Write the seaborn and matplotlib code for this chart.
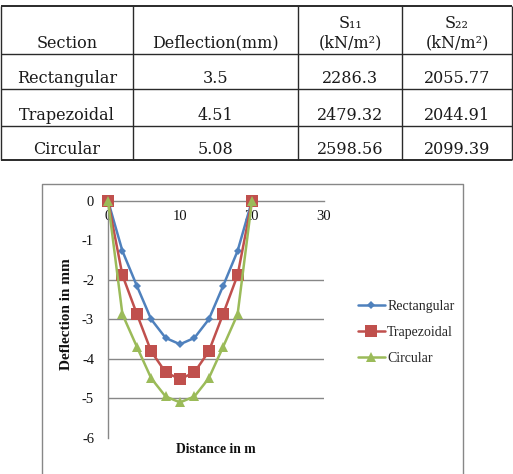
import matplotlib
matplotlib.use("Agg")
import matplotlib.pyplot as plt
import seaborn as sns
import pandas as pd

# ---------------- data ----------------
table_header_top = ["", "", "S₁₁", "S₂₂"]
table_header_bottom = ["Section", "Deflection(mm)", "(kN/m²)", "(kN/m²)"]
sections = ["Rectangular", "Trapezoidal", "Circular"]
deflection_mm = ["3.5", "4.51", "5.08"]
s11 = ["2286.3", "2479.32", "2598.56"]
s22 = ["2055.77", "2044.91", "2099.39"]

distance = [0, 2, 4, 6, 8, 10, 12, 14, 16, 18, 20]
rect = [0, -1.27, -2.15, -3.0, -3.47, -3.63, -3.47, -3.0, -2.15, -1.27, 0]
trap = [0, -1.88, -2.86, -3.81, -4.34, -4.51, -4.34, -3.81, -2.86, -1.88, 0]
circ = [0, -2.87, -3.69, -4.49, -4.95, -5.10, -4.95, -4.49, -3.69, -2.87, 0]
x_ticks = [0, 10, 20, 30]
y_ticks = [0, -1, -2, -3, -4, -5, -6]

df = pd.DataFrame({
    "Distance": distance * 3,
    "Deflection": rect + trap + circ,
    "Section": ["Rectangular"] * len(distance) + ["Trapezoidal"] * len(distance) + ["Circular"] * len(distance),
})

# ---------------- figure ----------------
sns.set_style("white")
plt.rcParams["axes.unicode_minus"] = False
W, H = 513, 474
fig = plt.figure(figsize=(W / 100, H / 100), dpi=100)

# background axes in pixel coordinates (table + chart frame)
bg = fig.add_axes([0, 0, 1, 1])
bg.set_xlim(0, W)
bg.set_ylim(H, 0)
bg.axis("off")

col_x = [1, 133, 298, 402, 512]
row_y = [6, 54, 89, 126, 160]
lc = "#2a2a2a"
for y in row_y:
    bg.plot([col_x[0], col_x[-1]], [y, y], color=lc, lw=1.0 if y not in (6, 160) else 1.4, solid_capstyle="butt")
for x in col_x:
    bg.plot([x, x], [row_y[0], row_y[-1]], color=lc, lw=1.0, solid_capstyle="butt")

tfont = dict(family="DejaVu Serif", fontsize=11.5, color="#1a1a1a", ha="center", va="center")
centers = [(col_x[i] + col_x[i + 1]) / 2 for i in range(4)]
for i in range(4):
    if table_header_top[i]:
        bg.text(centers[i], 23, table_header_top[i], **tfont)
    bg.text(centers[i], 43, table_header_bottom[i], **tfont)
rows = list(zip(sections, deflection_mm, s11, s22))
for r, vals in enumerate(rows):
    yc = row_y[r + 2] - 11
    for i, v in enumerate(vals):
        bg.text(centers[i], yc, v, **tfont)

# chart frame
gray = "#878787"
bg.plot([42, 42, 463, 463], [480, 184, 184, 480], color=gray, lw=1.0)

# ---------------- chart ----------------
ax_left, ax_right, ax_top, ax_bottom = 108, 324, 200.7, 438
ax = fig.add_axes([ax_left / W, 1 - ax_bottom / H, (ax_right - ax_left) / W, (ax_bottom - ax_top) / H])
ax.patch.set_alpha(0)

palette = {"Rectangular": "#4F81BD", "Trapezoidal": "#C0504D", "Circular": "#9BBB59"}
markers = {"Rectangular": "D", "Trapezoidal": "s", "Circular": "^"}
msizes = {"Rectangular": 4.5, "Trapezoidal": 8, "Circular": 6.5}
for sec in sections:
    sns.lineplot(data=df[df["Section"] == sec], x="Distance", y="Deflection", hue="Section",
                 palette=palette, marker=markers[sec], markersize=msizes[sec],
                 markeredgewidth=0, lw=1.8, ax=ax, legend=True, zorder=3, clip_on=False)

ax.set_xlim(0, 30)
ax.set_ylim(-6, 0)
ax.set_xticks(x_ticks)
ax.set_yticks(y_ticks)
ax.set_xticklabels([str(v) for v in x_ticks])
ax.set_yticklabels([str(v) for v in y_ticks])

for s in ["top", "right"]:
    ax.spines[s].set_visible(False)
ax.spines["bottom"].set_position(("data", 0))
ax.spines["bottom"].set_color(gray)
ax.spines["left"].set_color(gray)
ax.spines["bottom"].set_linewidth(1.0)
ax.spines["left"].set_linewidth(1.0)

ax.yaxis.grid(True, color=gray, lw=1.0)
for t, v in zip(ax.yaxis.get_major_ticks(), y_ticks):
    if v in (0, -1, -6):
        t.gridline.set_visible(False)

tick_font = "Liberation Serif"
ax.tick_params(axis="both", length=0, labelsize=10.5, colors="#111111")
ax.tick_params(axis="x", pad=7)
ax.tick_params(axis="y", pad=10)
for lab in ax.get_xticklabels() + ax.get_yticklabels():
    lab.set_fontfamily(tick_font)

ax.set_xlabel("Distance in m", fontfamily=tick_font, fontweight="bold", fontsize=9.8, color="#111111")
ax.set_ylabel("Deflection in mm", fontfamily=tick_font, fontweight="bold", fontsize=11, color="#111111")
ax.xaxis.set_label_coords(0.5, -0.022)
ax.yaxis.set_label_coords(-0.16, 0.52)

handles, labels = ax.get_legend_handles_labels()
ax.get_legend().remove()
leg = fig.legend(handles, labels, loc="upper left", bbox_to_anchor=(351 / W, 1 - 293 / H),
                 frameon=False, borderpad=0, handlelength=1.95, handletextpad=0.15,
                 labelspacing=0.95, prop={"family": tick_font, "size": 10})

fig.savefig("out.png", dpi=100)
